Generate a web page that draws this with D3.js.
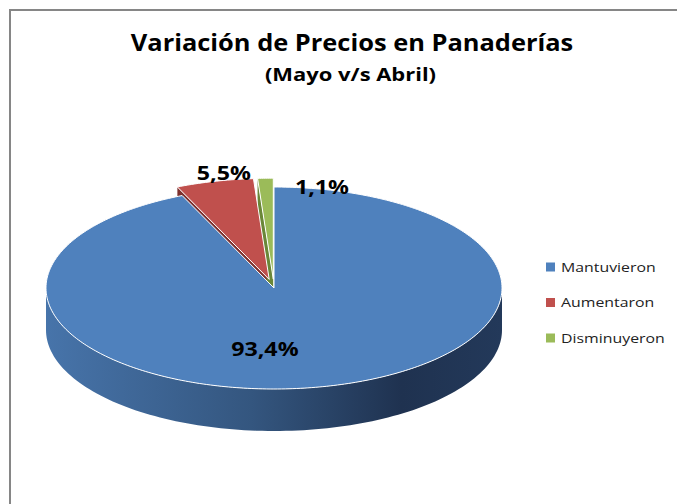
<!DOCTYPE html>
<html>
<head>
<meta charset="utf-8">
<script src="https://cdn.jsdelivr.net/npm/d3@7"></script>
<style>
  body { margin: 0; background: #fff; }
  svg { display: block; }
</style>
</head>
<body>
<svg id="chart"></svg>
<script>
// datos del grafico
var categories = ["Mantuvieron", "Aumentaron", "Disminuyeron"];
var values = [93.4, 5.5, 1.1];
var valueLabels = ["93,4%", "5,5%", "1,1%"];
var colors = ["#4f81bd", "#c0504d", "#9bbb59"];
var sideColors = ["#30507a", "#7d302e", "#6a8738"];
var explode = [0, 20, 20];
var title = "Variación de Precios en Panaderías";
var subtitle = "(Mayo v/s Abril)";

var width = 677, height = 504;
var svg = d3.select("#chart").attr("width", width).attr("height", height);

// el original esta estirado en horizontal
function stretchText(sel, x, y, sxf) {
  return sel.attr("transform", "translate(" + x + "," + y + ") scale(" + sxf + ",1)");
}

// marco
svg.append("rect")
  .attr("x", 10).attr("y", 10)
  .attr("width", 700).attr("height", 520)
  .attr("fill", "#fff")
  .attr("stroke", "#868686")
  .attr("stroke-width", 2);

stretchText(svg.append("text"), 352, 51, 1.13)
  .attr("text-anchor", "middle")
  .attr("font-family", "Open Sans, sans-serif")
  .attr("font-weight", "bold")
  .attr("font-size", 22.5)
  .text(title);

stretchText(svg.append("text"), 350.5, 81, 1.22)
  .attr("text-anchor", "middle")
  .attr("font-family", "Open Sans, sans-serif")
  .attr("font-weight", "bold")
  .attr("font-size", 18)
  .text(subtitle);

// pie 3d
var cx = 274, cy = 288, rx = 228, ry = 101, depth = 42;

var pie = d3.pie().sort(null).startAngle(0).endAngle(2 * Math.PI);
var arcs = pie(values);

// escalas de proyeccion (circulo unitario -> elipse)
var sx = d3.scaleLinear().domain([-1, 1]).range([cx - rx, cx + rx]);
var sy = d3.scaleLinear().domain([-1, 1]).range([cy - ry, cy + ry]);

function offset(i) {
  var mid = (arcs[i].startAngle + arcs[i].endAngle) / 2;
  var d = explode[i] / rx;
  return [Math.sin(mid) * d, -Math.cos(mid) * d];
}

function pt(a, r, o, z) {
  return [sx(o[0] + r * Math.sin(a)), sy(o[1] - r * Math.cos(a)) + (z || 0)];
}

function topPath(i) {
  var a = arcs[i], o = offset(i);
  var p = d3.path();
  var c = pt(0, 0, o);
  p.moveTo(c[0], c[1]);
  var n = Math.max(8, Math.ceil((a.endAngle - a.startAngle) * 60));
  for (var k = 0; k <= n; k++) {
    var t = a.startAngle + (a.endAngle - a.startAngle) * k / n;
    var q = pt(t, 1, o);
    p.lineTo(q[0], q[1]);
  }
  p.closePath();
  return p.toString();
}

function outerSidePath(i) {
  var a = arcs[i], o = offset(i);
  var a0 = Math.max(a.startAngle, Math.PI / 2);
  var a1 = Math.min(a.endAngle, 3 * Math.PI / 2);
  if (a1 <= a0) return null;
  var n = 120, pts = [];
  for (var k = 0; k <= n; k++) pts.push(pt(a0 + (a1 - a0) * k / n, 1, o));
  for (var k = n; k >= 0; k--) pts.push(pt(a0 + (a1 - a0) * k / n, 1, o, depth));
  return "M" + pts.join("L") + "Z";
}

function radialSidePath(i, ang) {
  var o = offset(i);
  var c0 = pt(0, 0, o), e0 = pt(ang, 1, o);
  var e1 = pt(ang, 1, o, depth), c1 = pt(0, 0, o, depth);
  return "M" + [c0, e0, e1, c1].join("L") + "Z";
}

var defs = svg.append("defs");
var grad = defs.append("linearGradient")
  .attr("id", "sideBlue")
  .attr("gradientUnits", "userSpaceOnUse")
  .attr("x1", cx - rx).attr("x2", cx + rx).attr("y1", 0).attr("y2", 0);
grad.append("stop").attr("offset", "0%").attr("stop-color", "#4774aa");
grad.append("stop").attr("offset", "45%").attr("stop-color", "#34567f");
grad.append("stop").attr("offset", "78%").attr("stop-color", "#1f3250");
grad.append("stop").attr("offset", "100%").attr("stop-color", "#23395a");

var g = svg.append("g");

// caras laterales de las porciones separadas
for (var i = 1; i < arcs.length; i++) {
  g.append("path")
    .attr("d", radialSidePath(i, arcs[i].startAngle))
    .attr("fill", sideColors[i]);
}

// lado exterior frontal
arcs.forEach(function (a, i) {
  var d = outerSidePath(i);
  if (d) {
    g.append("path")
      .attr("d", d)
      .attr("fill", i === 0 ? "url(#sideBlue)" : sideColors[i]);
  }
});

// caras superiores
arcs.forEach(function (a, i) {
  g.append("path")
    .attr("d", topPath(i))
    .attr("fill", colors[i])
    .attr("stroke", "#fff")
    .attr("stroke-width", 1)
    .attr("stroke-linejoin", "round");
});

// etiquetas de valores (posiciones en coordenadas de la elipse)
var labelPos = [[-0.04, 0.6], [-0.22, -1.14], [0.21, -1.0]];
arcs.forEach(function (a, i) {
  stretchText(svg.append("text"), sx(labelPos[i][0]), sy(labelPos[i][1]), 1.16)
    .attr("dy", "0.35em")
    .attr("text-anchor", "middle")
    .attr("font-family", "Open Sans, sans-serif")
    .attr("font-weight", "bold")
    .attr("font-size", 20)
    .attr("fill", "#000")
    .text(valueLabels[i]);
});

// leyenda
var legend = svg.append("g").attr("transform", "translate(546,267)");
categories.forEach(function (c, i) {
  var row = legend.append("g").attr("transform", "translate(0," + (i * 35.5) + ")");
  row.append("rect")
    .attr("x", 0).attr("y", -4.5)
    .attr("width", 9).attr("height", 9)
    .attr("fill", colors[i]);
  stretchText(row.append("text"), 15, 0, 1.22)
    .attr("dy", "0.35em")
    .attr("font-family", "Open Sans, sans-serif")
    .attr("font-size", 13)
    .attr("fill", "#222")
    .text(c);
});
</script>
</body>
</html>
